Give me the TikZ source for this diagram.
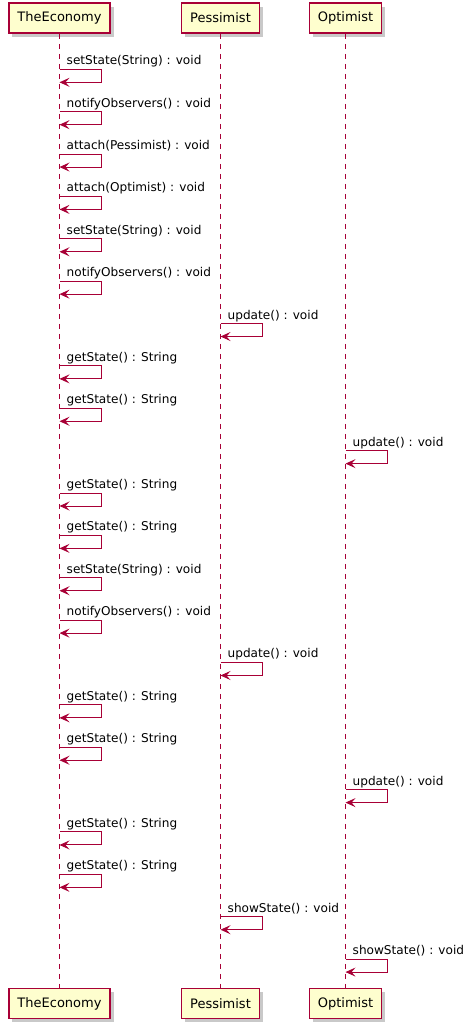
\documentclass[tikz,border=0pt]{standalone}
\usepackage{fontspec}
\setmainfont{DejaVu Sans}
\usetikzlibrary{arrows.meta,shadows}
\definecolor{umlred}{HTML}{A80036}
\definecolor{umlfill}{HTML}{FEFECE}
\begin{document}
\begin{tikzpicture}[x=1pt,y=-1pt,
    actor/.style={draw=umlred, line width=1.5pt, fill=umlfill, minimum height=30pt,
        inner xsep=8.5pt, inner ysep=0pt, font=\fontsize{13}{15}\selectfont,
        drop shadow={shadow xshift=3.5pt, shadow yshift=-3.5pt, opacity=.3, fill=black!70}},
    life/.style={draw=umlred, line width=1pt, dash pattern=on 5pt off 5pt},
    msg/.style={draw=umlred, line width=1pt,
        -{Stealth[length=10pt, width=9pt, inset=4pt]}},
    lbl/.style={anchor=base west, inner sep=0pt, font=\fontsize{12.1}{14}\selectfont}]
        \useasboundingbox (0,0) rectangle (476,1028);

        \node[actor] (ecoTop) at (59.5,18) {TheEconomy};
        \node[actor] (pessTop) at (220.5,18) {Pessimist};
        \node[actor] (optTop) at (345.5,18) {Optimist};
        \node[actor] (ecoBot) at (59.5,1003.5) {TheEconomy};
        \node[actor] (pessBot) at (220.5,1003.5) {Pessimist};
        \node[actor] (optBot) at (345.5,1003.5) {Optimist};

        \draw[life] (ecoTop) -- (ecoBot);
        \draw[life] (pessTop) -- (pessBot);
        \draw[life] (optTop) -- (optBot);

        % self calls, one row each
        \foreach \who/\txt [count=\i] in {
                eco/{setState(String) : void}, eco/{notifyObservers() : void},
                eco/{attach(Pessimist) : void}, eco/{attach(Optimist) : void},
                eco/{setState(String) : void}, eco/{notifyObservers() : void},
                pess/{update() : void}, eco/{getState() : String},
                eco/{getState() : String}, opt/{update() : void},
                eco/{getState() : String}, eco/{getState() : String},
                eco/{setState(String) : void}, eco/{notifyObservers() : void},
                pess/{update() : void}, eco/{getState() : String},
                eco/{getState() : String}, opt/{update() : void},
                eco/{getState() : String}, eco/{getState() : String},
                pess/{showState() : void}, opt/{showState() : void}} {
            \pgfmathsetmacro\yy{69.3+42.37*(\i-1)}
            \coordinate (s\i) at (\who Top |- 0,\yy);
            \coordinate (e\i) at (\who Top |- 0,\yy+13);
            \draw[msg] (s\i) -- ++(42,0) |- (e\i);
            \node[lbl] (l\i) at ([shift={(7,-4.5)}]s\i) {\txt};
        }
\end{tikzpicture}
\end{document}
